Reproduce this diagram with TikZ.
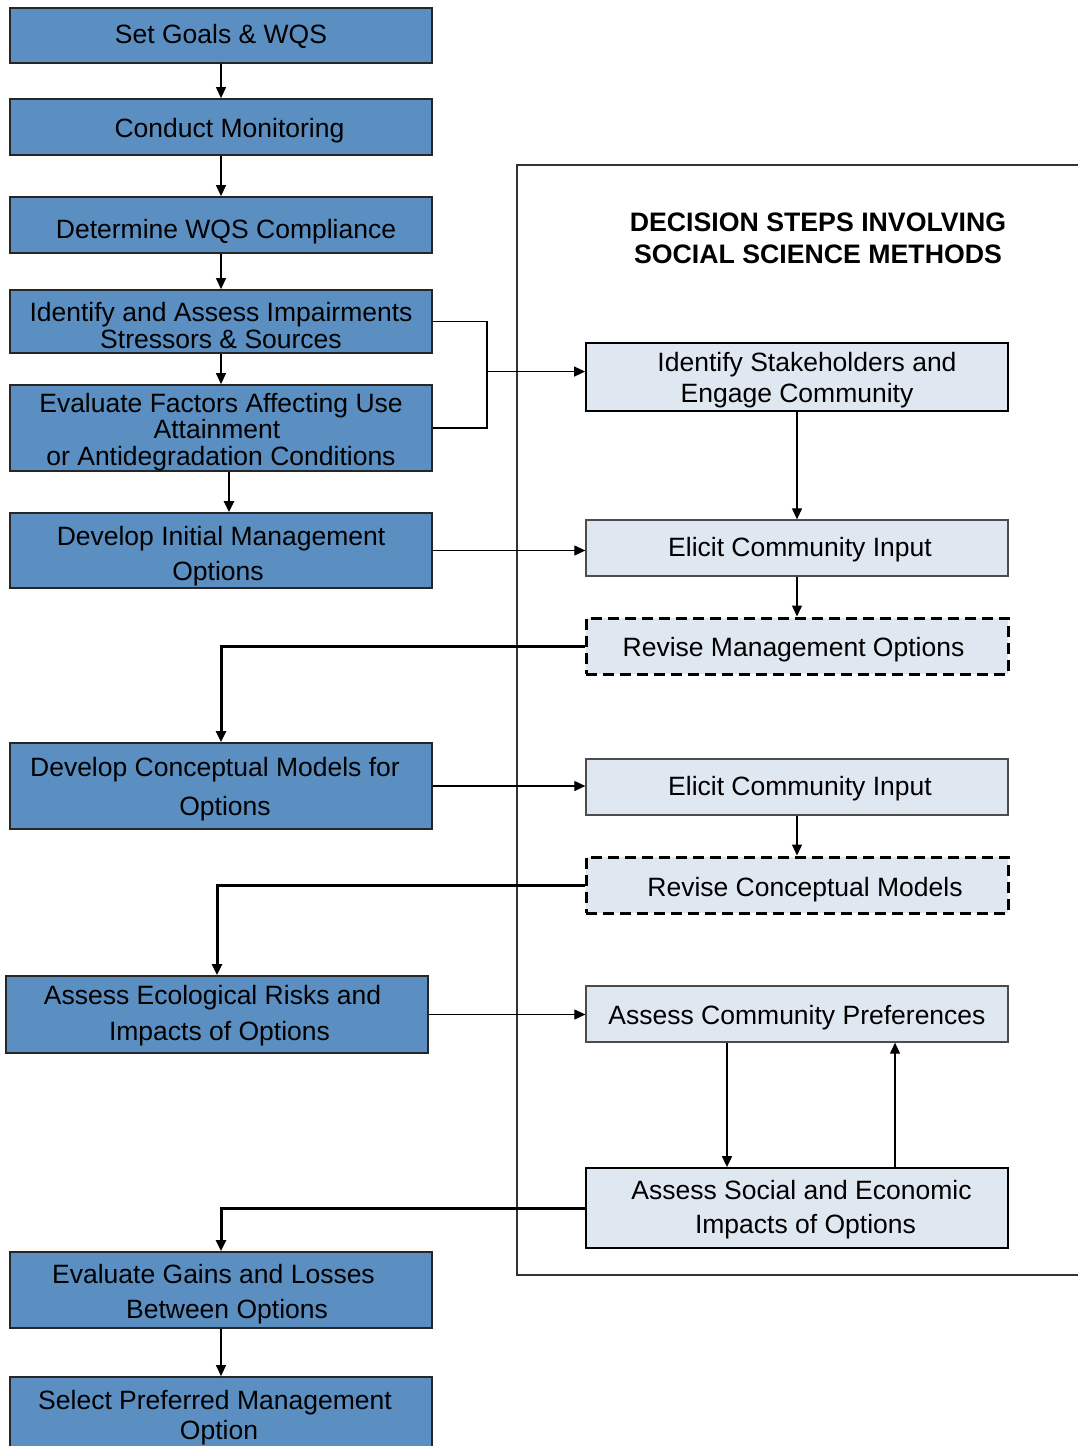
\documentclass[tikz,border=0pt]{standalone}
\usepackage{fontspec}
\setmainfont{Liberation Sans}
\usetikzlibrary{arrows.meta}
\usetikzlibrary{positioning,calc}
\definecolor{wqsblue}{RGB}{91,142,193}
\definecolor{soclight}{RGB}{223,231,241}
% strut on the first line, pushes the text down by #1
\newcommand{\txtdrop}[1]{\rule{0pt}{\dimexpr 19.3pt+#1*2\relax}}

\begin{document}
\begin{tikzpicture}[x=1pt,y=-1pt,
    wqsbox/.style={draw=black!85,line width=1.8pt,fill=wqsblue,minimum width=422pt,inner sep=0pt,align=center,font=\fontsize{26.5}{33}\selectfont},
    socbox/.style={draw=black!70,line width=1.3pt,fill=soclight,minimum width=422pt,inner sep=0pt,align=center,font=\fontsize{26.5}{33}\selectfont},
    revbox/.style={socbox,draw=black,line width=3pt,dash pattern=on 11pt off 6pt},
    link/.style={line width=1.2pt,-{Triangle[length=11pt,width=10pt]}},
    thicklink/.style={link,line width=3pt}]
  \useasboundingbox (0,0) rectangle (1078,1446);
  % left column
  \node[wqsbox,minimum height=55] (goals) at (221,35.5) {\txtdrop{1pt}Set Goals \& WQS};
  \node[wqsbox,minimum height=56] (mon) at (221,127) {\txtdrop{4pt}\hspace*{17pt}Conduct Monitoring};
  \node[wqsbox,minimum height=56] (comp) at (221,225) {\txtdrop{7pt}\hspace*{10pt}Determine WQS Compliance};
  \node[wqsbox,minimum height=63,font=\fontsize{26.5}{27}\selectfont] (imp) at (221,321.5) {\txtdrop{4pt}Identify and Assess Impairments\\Stressors \& Sources};
  \node[wqsbox,minimum height=86,font=\fontsize{26.5}{26.5}\selectfont] (fac) at (221,428) {\txtdrop{4pt}Evaluate Factors Affecting Use\\\hspace*{-8pt}Attainment\\or Antidegradation Conditions};
  \node[wqsbox,minimum height=75,font=\fontsize{26.5}{35}\selectfont] (init) at (221,550.5) {\txtdrop{6pt}Develop Initial Management\\\hspace*{-6pt}Options};
  \node[wqsbox,minimum height=86,font=\fontsize{26.5}{39}\selectfont] (concept) at (221,786) {\txtdrop{3pt}\hspace*{-12pt}Develop Conceptual Models for\\\hspace*{8pt}Options};
  \node[wqsbox,minimum height=77,font=\fontsize{26.5}{36}\selectfont] (eco) at (217,1014.5) {\txtdrop{1pt}\hspace*{-9pt}Assess Ecological Risks and\\\hspace*{5pt}Impacts of Options};
  \node[wqsbox,minimum height=76,font=\fontsize{26.5}{35}\selectfont] (gain) at (221,1290) {\txtdrop{4pt}\hspace*{-15pt}Evaluate Gains and Losses\\\hspace*{12pt}Between Options};
  \node[wqsbox,minimum height=80,font=\fontsize{26.5}{30}\selectfont] (sel) at (221,1417) {\txtdrop{1pt}\hspace*{-12pt}Select Preferred Management\\\hspace*{-4pt}Option};
  % social science frame
  \draw[line width=1.3pt,black!80] (1080,165) -- (517,165) -- (517,1275) -- (1080,1275);
  \node[font=\bfseries\fontsize{26.7}{32}\selectfont,align=center] (title) at (818,238) {DECISION STEPS INVOLVING\\SOCIAL SCIENCE METHODS};
  \node[socbox,draw=black,line width=1.8pt,minimum height=68,font=\fontsize{26.5}{31}\selectfont] (stake) at (797,377) {\txtdrop{3pt}\hspace*{20pt}Identify Stakeholders and\\Engage Community};
  \node[socbox,minimum height=56] (ci1) at (797,548) {\txtdrop{2pt}\hspace*{6pt}Elicit Community Input};
  \node[revbox,minimum height=56] (revm) at (797,646) {\txtdrop{4pt}\hspace*{-7pt}Revise Management Options};
  \node[socbox,minimum height=56] (ci2) at (797,787) {\txtdrop{2pt}\hspace*{6pt}Elicit Community Input};
  \node[revbox,minimum height=56] (revc) at (797,885) {\txtdrop{5pt}\hspace*{16pt}Revise Conceptual Models};
  \node[socbox,minimum height=56] (pref) at (797,1014) {\txtdrop{4pt}Assess Community Preferences};
  \node[socbox,draw=black,line width=1.8pt,minimum height=80,font=\fontsize{26.5}{34}\selectfont] (soc) at (797,1208) {\txtdrop{2pt}\hspace*{9pt}Assess Social and Economic\\\hspace*{17pt}Impacts of Options};
  % connectors
  \draw[link] (goals) -- (mon);
  \draw[link] (mon) -- (comp);
  \draw[link] (comp) -- (imp);
  \draw[link] (imp) -- (fac);
  \draw[thicklink,line width=2.4pt] ([xshift=8pt]fac.south) -- ([xshift=8pt]init.north);
  \draw[line width=1.2pt] (imp.east) -- ++(54,0) coordinate (jn) |- (fac.east);
  \coordinate (jm) at ($(jn)!0.47!(jn |- fac.east)$);
  \draw[link] (jm) -- (jm -| stake.west);
  \draw[link] (stake) -- (ci1);
  \draw[link] (init.east) -- (init.east -| ci1.west);
  \draw[link] (ci1) -- (revm);
  \draw[thicklink] (revm.west) -| (concept.north);
  \draw[link] (concept.east) -- (concept.east -| ci2.west);
  \draw[link] (ci2) -- (revc);
  \draw[thicklink] (revc.west) -| (eco.north);
  \draw[link] (eco.east) -- (eco.east -| pref.west);
  \draw[link,line width=1.8pt] ([xshift=-70pt]pref.south) -- ([xshift=-70pt]pref.south |- soc.north);
  \draw[link] ([xshift=98pt]soc.north) -- ([xshift=98pt]soc.north |- pref.south);
  \draw[thicklink] (soc.west) -| (gain.north);
  \draw[link] (gain) -- (sel);
\end{tikzpicture}
\end{document}
